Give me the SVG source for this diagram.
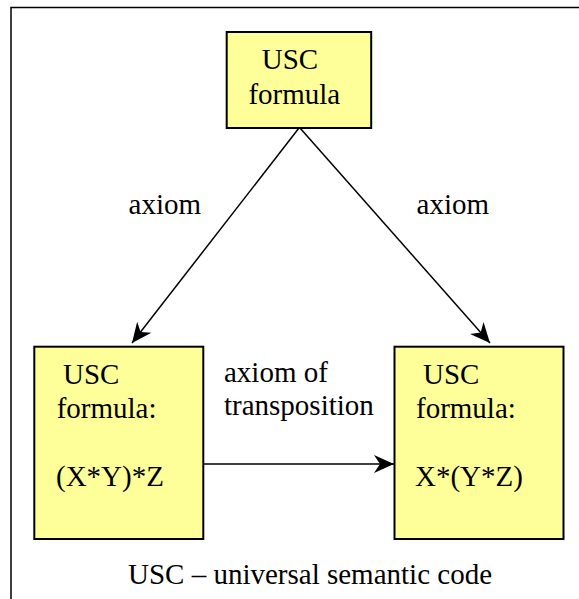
<svg xmlns="http://www.w3.org/2000/svg" width="579" height="599" viewBox="0 0 579 599">
<style>
.box{fill:#FFFF99;stroke:#000;stroke-width:2}
text{font-family:'Liberation Serif','Times New Roman','DejaVu Serif',serif;font-size:29px;fill:#000}
.c{stroke:#000;stroke-width:1.5;fill:none}
</style>
<defs>
<marker id="ah" viewBox="-22 -10 24 20" refX="0" refY="0" markerWidth="24" markerHeight="20" markerUnits="userSpaceOnUse" orient="auto">
<path d="M0,0 L-20,-9 L-14,0 L-20,9 Z" fill="#000"/>
</marker>
</defs>
<rect x="0" y="0" width="579" height="599" fill="#fff"/>
<rect x="11" y="7.5" width="620" height="620" fill="none" stroke="#000" stroke-width="1.5"/>
<g id="connectors">
<line class="c" x1="299" y1="128" x2="132" y2="343" marker-end="url(#ah)"/>
<line class="c" x1="300" y1="128" x2="490" y2="343" marker-end="url(#ah)"/>
<line class="c" x1="203" y1="464" x2="394" y2="464" marker-end="url(#ah)"/>
<text x="128.6" y="214">axiom</text>
<text x="416.6" y="214">axiom</text>
<text x="224" y="382">axiom of</text>
<text x="224" y="415">transposition</text>
</g>
<g id="top">
<rect class="box" x="226.7" y="32" width="144.5" height="96"/>
<text x="261.7" y="69">USC</text>
<text x="248.4" y="104">formula</text>
</g>
<g id="left">
<rect class="box" x="34.3" y="346.7" width="169" height="192.3"/>
<text x="63" y="384">USC</text>
<text x="56.7" y="417.5">formula:</text>
<text x="56" y="486">(X*Y)*Z</text>
</g>
<g id="right">
<rect class="box" x="394.5" y="346.7" width="169" height="192.3"/>
<text x="423" y="384">USC</text>
<text x="416" y="417.5">formula:</text>
<text x="415" y="486">X*(Y*Z)</text>
</g>
<g id="legend">
<text x="128" y="584">USC – universal semantic code</text>
</g>
</svg>
